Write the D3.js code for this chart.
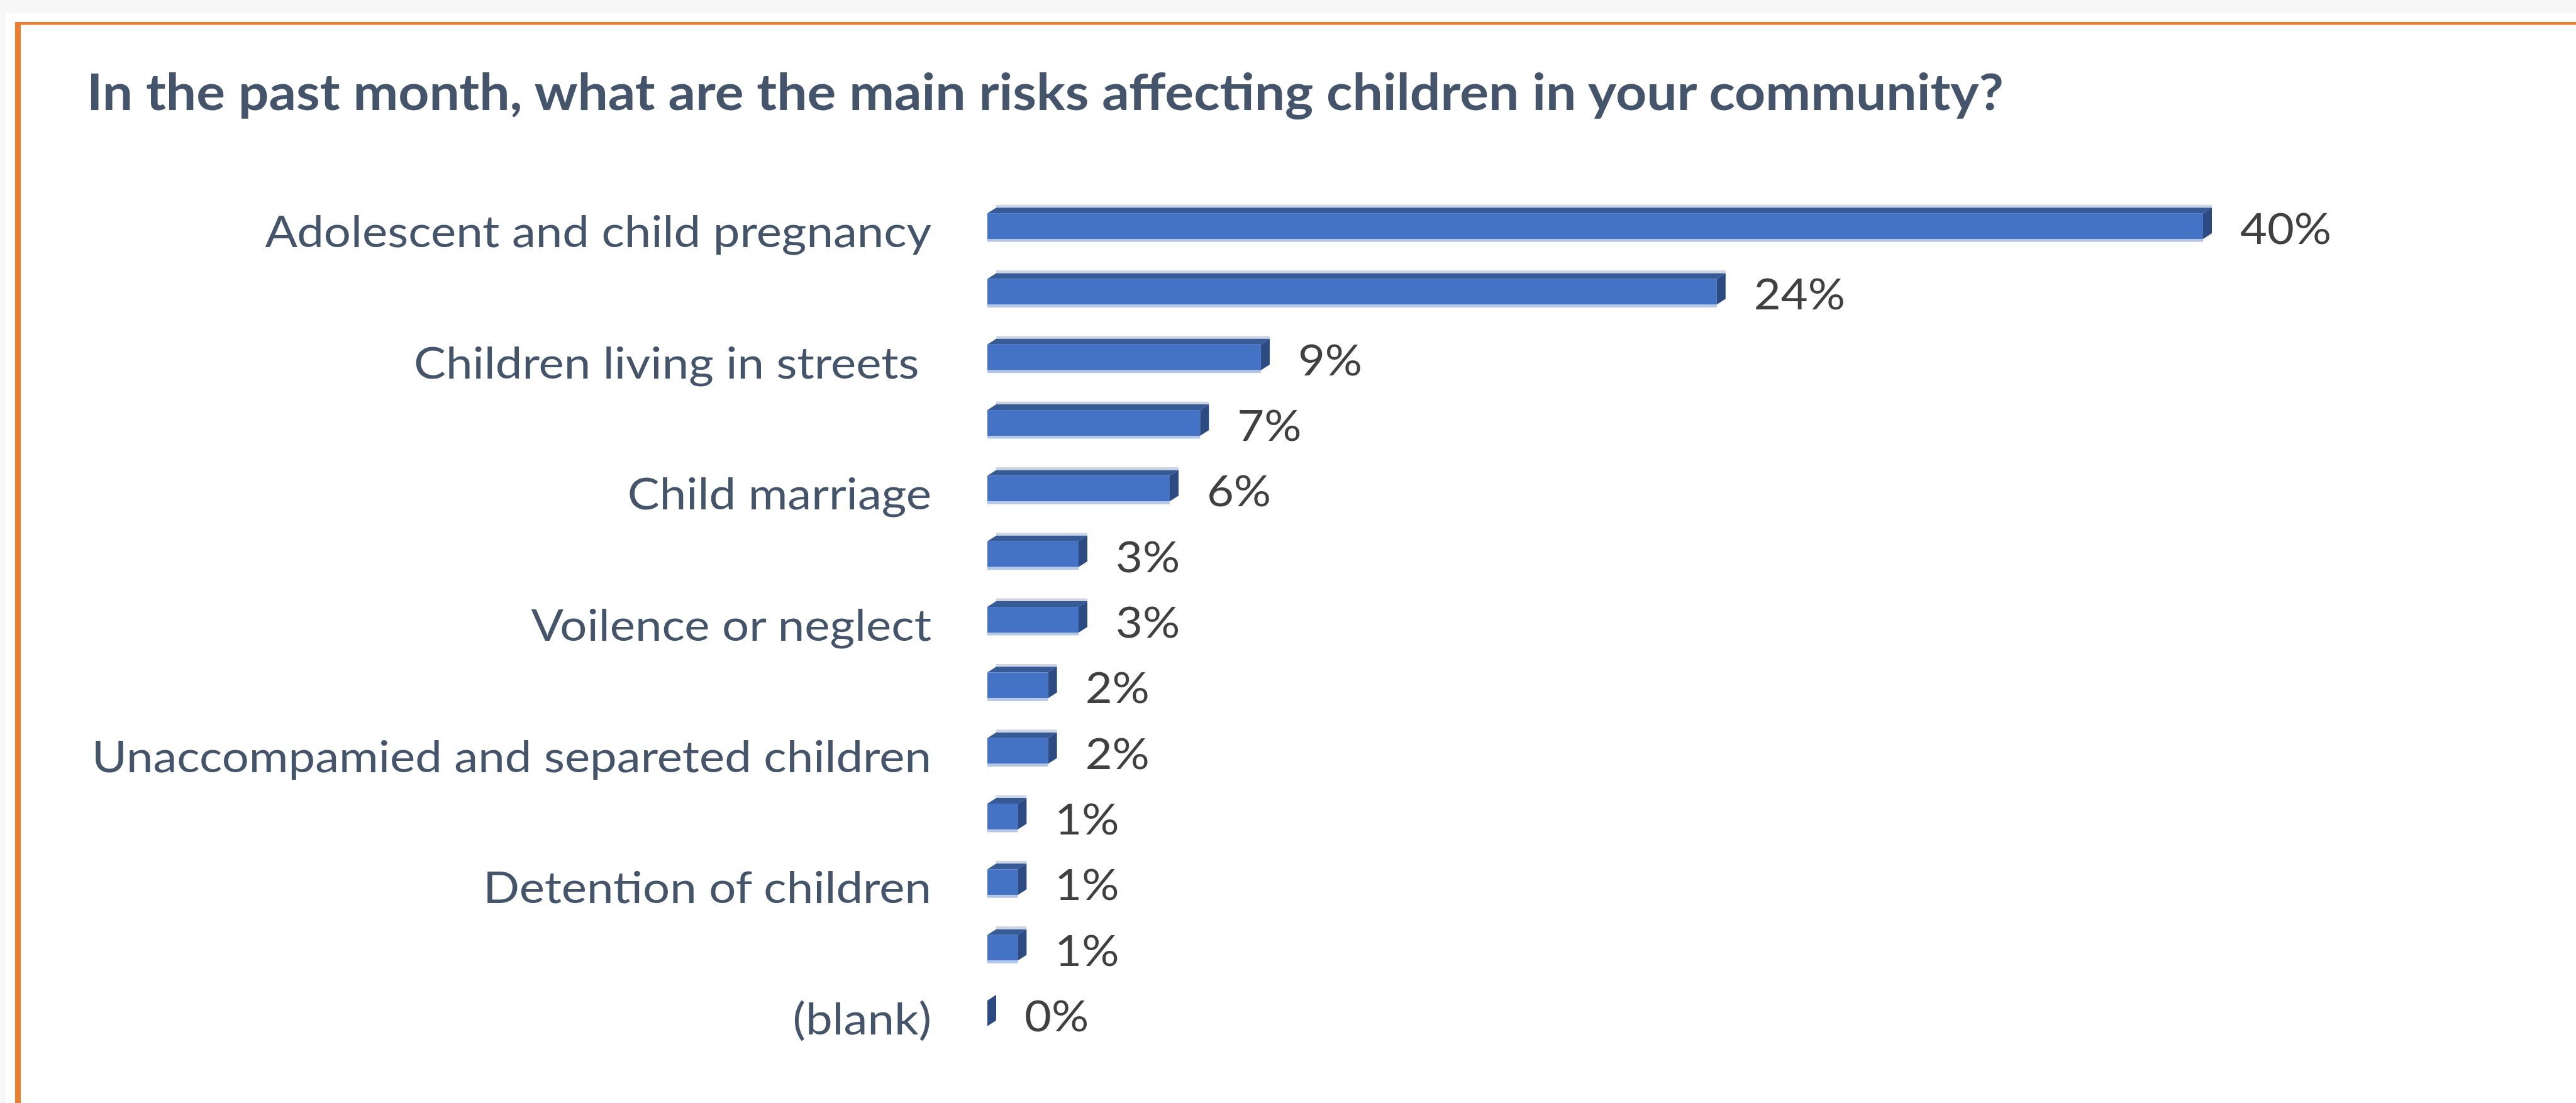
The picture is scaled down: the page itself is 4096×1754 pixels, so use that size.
<!DOCTYPE html>
<html>
<head>
<meta charset="utf-8">
<title>Main risks affecting children</title>
<script src="https://cdn.jsdelivr.net/npm/d3@7"></script>
<style>
    body { margin: 0; background: #fff; }
    svg { display: block; }
</style>
</head>
<body>
<div id="chart"></div>
<script>
// top to bottom. Excel only printed every second label, the hidden ones stay blank
const categories = [
    'Adolescent and child pregnancy', '',
    'Children living in streets ', '',
    'Child marriage', '',
    'Voilence or neglect', '',
    'Unaccompamied and separeted children', '',
    'Detention of children', '',
    '(blank)'
];
// share of answers, %
const values = [40, 24, 9, 7, 6, 3, 3, 2, 2, 1, 1, 1, 0];
const title = 'In the past month, what are the main risks affecting children in your community?';

const width = 4096;
const height = 1754;
const fontFamily = 'Lato, "Open Sans", "Liberation Sans", sans-serif';
const textColor = '#44546a';

const svg = d3.select('#chart')
              .append('svg')
              .attr('width', width)
              .attr('height', height);

// page behind the chart + orange frame (cut off at right and bottom)
svg.append('rect')
   .attr('width', width)
   .attr('height', height)
   .attr('fill', '#f7f7f7');
svg.append('rect')
   .attr('x', 9)
   .attr('y', 21)
   .attr('width', width)
   .attr('height', height)
   .attr('fill', '#fff');
svg.append('rect')
   .attr('x', 24)
   .attr('y', 35)
   .attr('width', width)
   .attr('height', 4.6)
   .attr('fill', '#ed7d31');
svg.append('rect')
   .attr('x', 24)
   .attr('y', 35)
   .attr('width', 9)
   .attr('height', height)
   .attr('fill', '#ed7d31');

const titleText = svg.append('text')
   .attr('x', 138)
   .attr('y', 175)
   .attr('font-family', fontFamily)
   .attr('font-weight', 'bold')
   .attr('font-size', 81)
   .attr('fill', textColor)
   .text(title);
titleText.attr('textLength', 3048).attr('lengthAdjust', 'spacingAndGlyphs');

const xScale = d3.scaleLinear()
                 .domain([0, 40])
                 .range([1570, 3503]);

const yScale = d3.scaleBand()
                 .domain(d3.range(categories.length))
                 .range([287, 1684])
                 .paddingInner(0.608)
                 .paddingOuter(0.5);

const x0 = xScale(0);
const bw = yScale.bandwidth();
const depthX = 14;
const depthY = 9;

const bar = svg.append('g')
               .selectAll('g.bar')
               .data(values)
               .join('g')
               .attr('class', 'bar');

// soft light edge above the top face
bar.append('rect')
   .attr('x', x0 + depthX)
   .attr('y', (d, i) => yScale(i) - depthY - 4.5)
   .attr('width', d => xScale(d) - x0)
   .attr('height', 4.5)
   .attr('fill', '#cdd4e4');

// top face
bar.append('path')
   .attr('d', (d, i) => {
       const y = yScale(i);
       const x1 = xScale(d);
       return `M${x0},${y}L${x0 + depthX},${y - depthY}L${x1 + depthX},${y - depthY}L${x1},${y}Z`;
   })
   .attr('fill', '#355a96');

// front face
bar.append('rect')
   .attr('x', x0)
   .attr('y', (d, i) => yScale(i))
   .attr('width', d => xScale(d) - x0)
   .attr('height', bw)
   .attr('fill', '#4472c4');

// light edge under the front
bar.append('rect')
   .attr('x', x0)
   .attr('y', (d, i) => yScale(i) + bw)
   .attr('width', d => xScale(d) - x0)
   .attr('height', 4.5)
   .attr('fill', '#b4c7e7');

// side face
bar.append('path')
   .attr('d', (d, i) => {
       const y = yScale(i);
       const x1 = xScale(d);
       return `M${x1},${y}L${x1 + depthX},${y - depthY}L${x1 + depthX},${y + bw - depthY}L${x1},${y + bw}Z`;
   })
   .attr('fill', '#2b4b82');

// category axis, no line and no ticks
const yAxis = d3.axisLeft(yScale)
                .tickSize(0)
                .tickPadding(89)
                .tickFormat(i => categories[i]);

const axisG = svg.append('g')
                 .attr('transform', 'translate(' + x0 + ',0)')
                 .call(yAxis)
                 .attr('font-family', fontFamily)
                 .attr('font-size', 70);
axisG.select('.domain').remove();
axisG.selectAll('text')
     .attr('fill', textColor)
     .attr('dy', '0.48em')
     .style('white-space', 'pre');

const valueText = svg.append('g')
   .attr('font-family', fontFamily)
   .attr('font-size', 68)
   .attr('fill', '#404040')
   .selectAll('text')
   .data(values)
   .join('text')
   .attr('x', d => xScale(d) + 59)
   .attr('y', (d, i) => yScale(i) + bw / 2 + 28.5)
   .text(d => d3.format('.0f')(d) + '%');

// fonts here are not Calibri, squeeze/stretch all labels by one factor
// so the longest label gets the width it has in the original
const longest = axisG.selectAll('text').filter(i => i === 8).node();
const k = 1335 / longest.getComputedTextLength();
axisG.selectAll('text').each(function() {
    const len = this.getComputedTextLength();
    if (len > 0) d3.select(this).attr('textLength', len * k).attr('lengthAdjust', 'spacingAndGlyphs');
});
valueText.each(function() {
    const len = this.getComputedTextLength();
    d3.select(this).attr('textLength', len * k).attr('lengthAdjust', 'spacingAndGlyphs');
});
</script>
</body>
</html>
